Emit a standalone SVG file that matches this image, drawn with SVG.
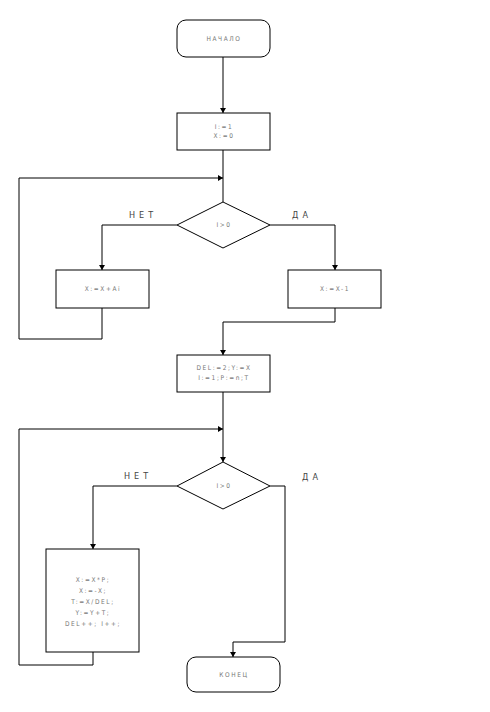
<svg xmlns="http://www.w3.org/2000/svg" width="490" height="712" viewBox="0 0 490 712">
<style>
.s{fill:#fff;stroke:#000;stroke-width:1}
.c{fill:none;stroke:#000;stroke-width:1}
.t{font-family:"DejaVu Sans Condensed","Liberation Sans",sans-serif;font-size:6.5px;fill:#777;text-anchor:middle;letter-spacing:1.6px}
.l{font-family:"DejaVu Sans Condensed","Liberation Sans",sans-serif;font-size:9px;fill:#444;text-anchor:middle;letter-spacing:4px}
</style>
<defs>
<marker id="a" markerWidth="6" markerHeight="6" refX="5" refY="3" orient="auto" markerUnits="userSpaceOnUse">
<path d="M0,0 L5,3 L0,6 Z" fill="#000"/>
</marker>
</defs>
<g id="connectors">
<path class="c" d="M223,57 V113" marker-end="url(#a)"/>
<path class="c" d="M223,150 V202"/>
<path class="c" d="M177,225 H102 V270" marker-end="url(#a)"/>
<path class="c" d="M270,225 H335 V270" marker-end="url(#a)"/>
<path class="c" d="M102,308 V339 H19 V178 H223" marker-end="url(#a)"/>
<path class="c" d="M335,308 V322 H223 V355" marker-end="url(#a)"/>
<path class="c" d="M223,392 V462" marker-end="url(#a)"/>
<path class="c" d="M177,486 H93 V549" marker-end="url(#a)"/>
<path class="c" d="M93,652 V665 H19 V429 H223" marker-end="url(#a)"/>
<path class="c" d="M270,486 H285 V642 H233 V657" marker-end="url(#a)"/>
<text class="l" x="143" y="218">НЕТ</text>
<text class="l" x="302" y="218">ДА</text>
<text class="l" x="138" y="479">НЕТ</text>
<text class="l" x="312" y="480">ДА</text>
</g>
<g id="start">
<rect class="s" x="177" y="20" width="93" height="37" rx="9"/>
<text class="t" x="224" y="41">НАЧАЛО</text>
</g>
<g id="init1">
<rect class="s" x="177" y="113" width="93" height="37"/>
<text class="t" x="224" y="129">I:=1</text>
<text class="t" x="224" y="138">X:=0</text>
</g>
<g id="cond1">
<polygon class="s" points="223,202 270,225 223,248 177,225"/>
<text class="t" x="224" y="227">I&gt;0</text>
</g>
<g id="add">
<rect class="s" x="56" y="270" width="93" height="38"/>
<text class="t" x="103" y="291">X:=X+Ai</text>
</g>
<g id="sub">
<rect class="s" x="288" y="270" width="93" height="38"/>
<text class="t" x="335" y="291">X:=X-1</text>
</g>
<g id="init2">
<rect class="s" x="177" y="355" width="93" height="37"/>
<text class="t" x="224" y="370">DEL:=2;Y:=X</text>
<text class="t" x="224" y="380">I:=1;P:=n;T</text>
</g>
<g id="cond2">
<polygon class="s" points="223,462 270,486 223,509 177,486"/>
<text class="t" x="224" y="488">I&gt;0</text>
</g>
<g id="loop">
<rect class="s" x="46" y="549" width="93" height="103"/>
<text class="t" x="93" y="582">X:=X*P;</text>
<text class="t" x="93" y="593">X:=-X;</text>
<text class="t" x="93" y="604">T:=X/DEL;</text>
<text class="t" x="93" y="615">Y:=Y+T;</text>
<text class="t" x="93" y="626">DEL++; I++;</text>
</g>
<g id="end">
<rect class="s" x="187" y="657" width="93" height="35" rx="9"/>
<text class="t" x="234" y="677">КОНЕЦ</text>
</g>
</svg>
